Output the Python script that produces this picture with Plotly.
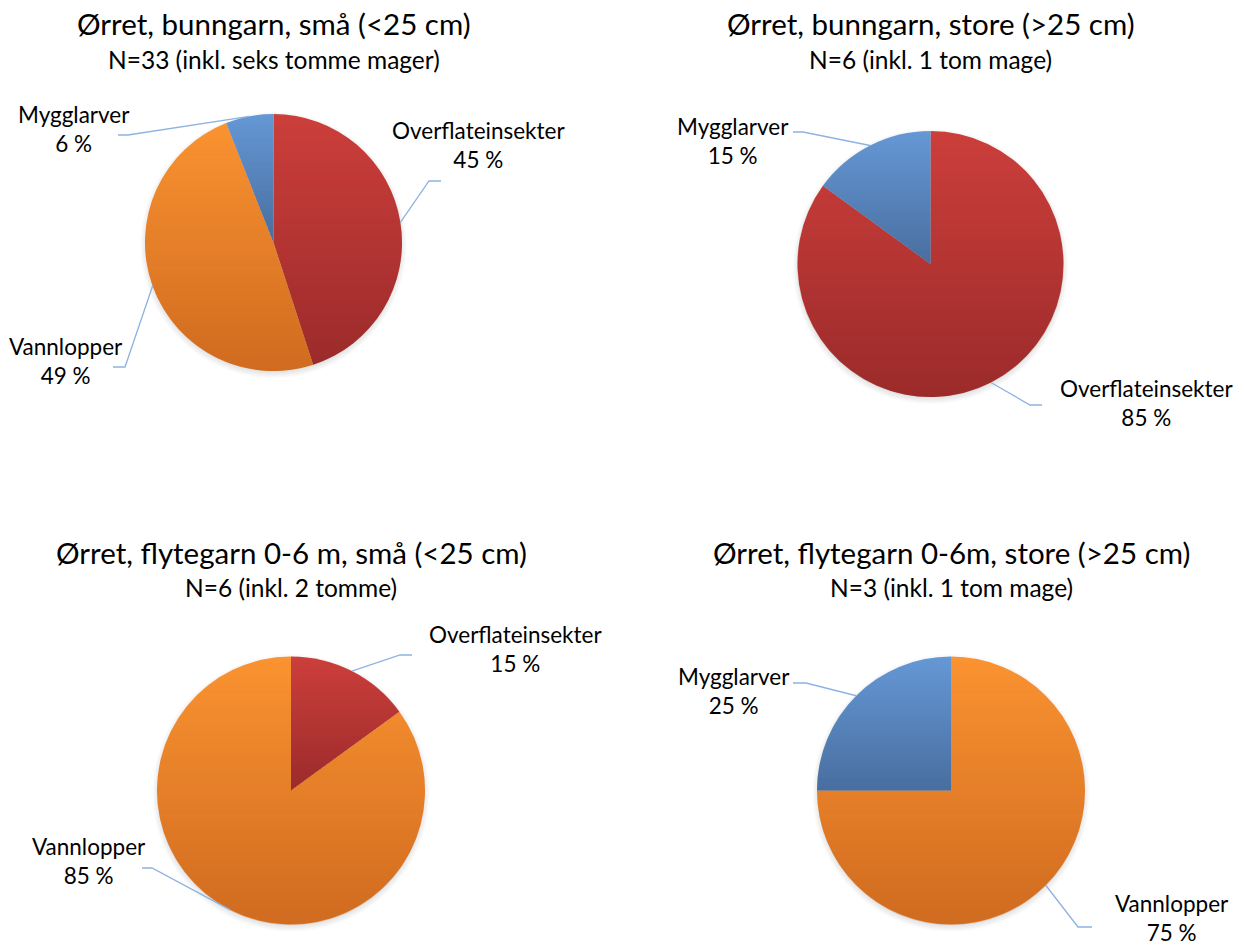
import base64
import struct
import zlib

import numpy as np
import plotly.graph_objects as go

# ---- data -------------------------------------------------------------
categories = ["Overflateinsekter", "Vannlopper", "Mygglarver"]

bunngarn_small = [45, 49, 6]
bunngarn_large = [85, 0, 15]
flytegarn_small = [15, 85, 0]
flytegarn_large = [0, 75, 25]

titles = [
    "Ørret, bunngarn, små (<25 cm)",
    "Ørret, bunngarn, store (>25 cm)",
    "Ørret, flytegarn 0-6 m, små (<25 cm)",
    "Ørret, flytegarn 0-6m, store (>25 cm)",
]
subtitles = [
    "N=33 (inkl. seks tomme mager)",
    "N=6 (inkl. 1 tom mage)",
    "N=6 (inkl. 2 tomme)",
    "N=3 (inkl. 1 tom mage)",
]
series = [bunngarn_small, bunngarn_large, flytegarn_small, flytegarn_large]

# ---- styling / layout -------------------------------------------------
W, H = 1245, 947
FONT = "Lato"
TITLE_SIZE = 29.5
SUBTITLE_SIZE = 24.5
LABEL_SIZE = 22.5
TOP_COLORS = {"Overflateinsekter": (204, 63, 59),
              "Vannlopper": (250, 147, 49),
              "Mygglarver": (101, 152, 213)}
BOTTOM_COLORS = {"Overflateinsekter": (155, 43, 43),
                 "Vannlopper": (208, 107, 31),
                 "Mygglarver": (73, 110, 160)}
LEADER_COLOR = "#8db3e2"

# pie centre (px) and radius (px) for each panel
pie_geom = [(273.5, 242.5, 128.5), (930.5, 264.0, 133.0),
            (291.0, 790.5, 134.0), (951.0, 790.5, 134.0)]
title_y = [(24, 59), (24, 59), (552, 587), (552, 587)]

# label block centre, elbow of the leader, end of the short horizontal run
label_layout = [
    {"Overflateinsekter": ((478, 145), (429, 181), (441, 181)),
     "Vannlopper": ((66, 361), (125, 367), (113, 367)),
     "Mygglarver": ((74, 129), (128, 135), (118, 135))},
    {"Overflateinsekter": ((1146, 403), (1030, 405), (1042, 405)),
     "Mygglarver": ((733, 141), (803, 132), (793, 132))},
    {"Overflateinsekter": ((515, 649), (400, 655), (412, 655)),
     "Vannlopper": ((89, 861), (152, 868), (142, 868))},
    {"Vannlopper": ((1172, 918), (1078, 927), (1092, 927)),
     "Mygglarver": ((734, 691), (806, 683), (793, 683))},
]


def px(x, y):
    return x / W, 1 - y / H


def png_uri(rgba):
    h, w, _ = rgba.shape
    raw = b"".join(b"\x00" + rgba[i].tobytes() for i in range(h))

    def chunk(tag, data):
        c = struct.pack(">I", len(data)) + tag + data
        return c + struct.pack(">I", zlib.crc32(tag + data) & 0xFFFFFFFF)

    png = (b"\x89PNG\r\n\x1a\n"
           + chunk(b"IHDR", struct.pack(">IIBBBBB", w, h, 8, 6, 0, 0, 0))
           + chunk(b"IDAT", zlib.compress(raw, 9))
           + chunk(b"IEND", b""))
    return "data:image/png;base64," + base64.b64encode(png).decode()


def slice_fractions(values):
    total = float(sum(values))
    cum = np.cumsum([0] + list(values)) / total
    return cum


def shade_overlay(values, r, amax=0.35):
    """Per-slice vertical shading laid over the flat pie colours."""
    n = int(round(2 * r))
    yy, xx = np.mgrid[0:n, 0:n].astype(float)
    dx = xx + 0.5 - n / 2
    dy = yy + 0.5 - n / 2
    d = np.hypot(dx, dy)
    theta = (np.arctan2(dx, -dy) % (2 * np.pi)) / (2 * np.pi)
    cum = slice_fractions(values)
    inside = np.clip(n / 2 - d + 0.5, 0, 1)
    out = np.zeros((n, n, 4), dtype=float)
    for k, cat in enumerate(categories):
        if values[k] == 0:
            continue
        m = (theta >= cum[k]) & (theta < cum[k + 1]) & (d <= n / 2 + 1)
        rows = np.where(m.any(axis=1))[0]
        y0, y1 = rows.min(), rows.max()
        t = np.clip((yy - y0) / max(y1 - y0, 1), 0, 1)
        top = np.array(TOP_COLORS[cat], float)
        bot = np.array(BOTTOM_COLORS[cat], float)
        col = np.clip((bot - top * (1 - amax)) / amax, 0, 255)
        for c in range(3):
            out[..., c] = np.where(m, col[c], out[..., c])
        out[..., 3] = np.where(m, amax * t * 255, out[..., 3])
    out[..., 3] *= inside
    return png_uri(out.astype(np.uint8))


def shadow_image(r, pad=10, soft=5.0):
    n = int(round(2 * (r + pad)))
    yy, xx = np.mgrid[0:n, 0:n].astype(float)
    d = np.hypot(xx + 0.5 - n / 2, yy + 0.5 - n / 2 - 2.5)
    a = np.clip((r + soft - d) / (2 * soft), 0, 1) * 0.28
    img = np.zeros((n, n, 4), dtype=float)
    img[..., :3] = 110
    img[..., 3] = a * 255
    return png_uri(img.astype(np.uint8)), n


fig = go.Figure()
annotations, shapes, images = [], [], []

for i, values in enumerate(series):
    cx, cy, r = pie_geom[i]
    x0, y1 = px(cx - r, cy - r)
    x1, y0 = px(cx + r, cy + r)
    fig.add_trace(go.Pie(
        labels=categories, values=values, sort=False,
        direction="clockwise", rotation=0,
        marker=dict(colors=["rgb(%d,%d,%d)" % TOP_COLORS[c] for c in categories],
                    line=dict(width=0)),
        textinfo="none", hoverinfo="label+percent",
        domain=dict(x=[x0, x1], y=[y0, y1]), showlegend=False,
    ))

    # vertical shading and soft drop shadow
    images.append(dict(source=shade_overlay(values, r), xref="paper", yref="paper",
                       x=x0, y=y1, sizex=2 * r / W, sizey=2 * r / H,
                       xanchor="left", yanchor="top", sizing="stretch",
                       layer="above"))
    src, n = shadow_image(r)
    sx, sy = px(cx - n / 2, cy - n / 2)
    images.append(dict(source=src, xref="paper", yref="paper", x=sx, y=sy,
                       sizex=n / W, sizey=n / H, xanchor="left", yanchor="top",
                       sizing="stretch", layer="below"))

    # titles
    tx, ty = px(cx, title_y[i][0])
    annotations.append(dict(text=titles[i], x=tx, y=ty, xref="paper", yref="paper",
                            showarrow=False, xanchor="center", yanchor="middle",
                            font=dict(family=FONT, size=TITLE_SIZE, color="#000000")))
    sx_, sy_ = px(cx, title_y[i][1])
    annotations.append(dict(text=subtitles[i], x=sx_, y=sy_, xref="paper", yref="paper",
                            showarrow=False, xanchor="center", yanchor="middle",
                            font=dict(family=FONT, size=SUBTITLE_SIZE, color="#000000")))

    # data labels with leader lines
    cum = slice_fractions(values)
    for k, cat in enumerate(categories):
        if values[k] == 0:
            continue
        mid = 2 * np.pi * (cum[k] + cum[k + 1]) / 2
        ex, ey = cx + r * np.sin(mid), cy - r * np.cos(mid)
        (lx, ly), (bx, by), (hx, hy) = label_layout[i][cat]
        p0, p1, p2 = px(ex, ey), px(bx, by), px(hx, hy)
        shapes.append(dict(type="path", xref="paper", yref="paper",
                           path="M %f,%f L %f,%f L %f,%f" % (*p0, *p1, *p2),
                           line=dict(color=LEADER_COLOR, width=1.3)))
        ax, ay = px(lx, ly)
        annotations.append(dict(text="%s<br>%d %%" % (cat, values[k]), x=ax, y=ay,
                                xref="paper", yref="paper", showarrow=False,
                                xanchor="center", yanchor="middle", align="center",
                                font=dict(family=FONT, size=LABEL_SIZE, color="#000000")))

fig.update_layout(
    width=W, height=H, margin=dict(l=0, r=0, t=0, b=0),
    paper_bgcolor="white", plot_bgcolor="white",
    annotations=annotations, shapes=shapes, images=images,
)

fig.write_html("out.html")
